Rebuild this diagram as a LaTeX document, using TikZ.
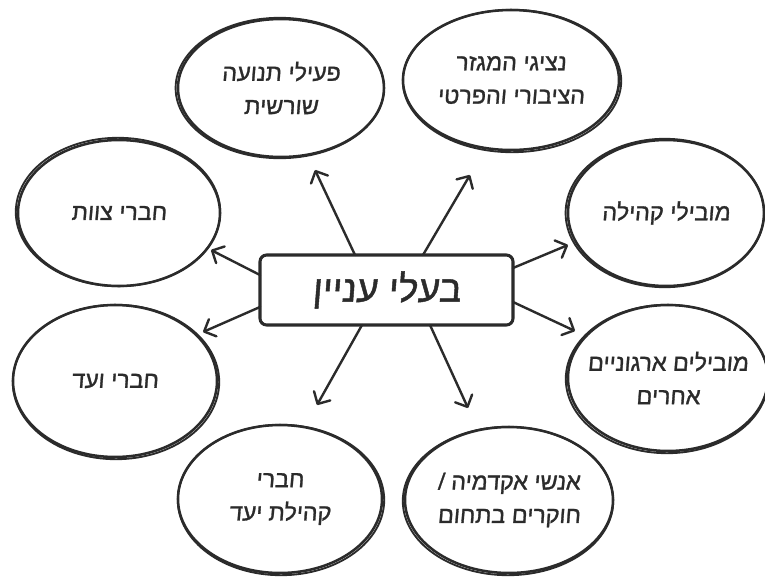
\documentclass[tikz,border=0pt]{standalone}
\usepackage{fontspec}
\newfontfamily\hebfont[Script=Hebrew,FakeBold=1.2,FakeSlant=0.08]{Liberation Sans}
\TeXXeTstate=1
\usetikzlibrary{arrows.meta,shapes.geometric}
\definecolor{ink}{HTML}{2B2B2B}
\begin{document}
\begin{tikzpicture}[x=0.75pt,y=-0.75pt,
  bubble/.style={draw=ink,line width=1.9pt,ellipse,inner sep=0pt},
  btext/.style={align=center,text=ink,font=\hebfont\fontsize{17.5}{25}\selectfont},
  hub/.style={draw=ink,line width=2.3pt,rounded corners=5pt,inner sep=0pt,
    minimum width=189.75pt,minimum height=52.5pt,text=ink,font=\hebfont\fontsize{28}{32}\selectfont},
  sketch/.style={draw=ink,line width=1.4pt},
  link/.style={draw=ink,line width=1.8pt,line cap=round,-{Straight Barb[length=7pt,width=14pt,line width=1.8pt,round]}}]
\useasboundingbox (0,0) rectangle (765,576);
\fill[white] (0,0) rectangle (765,576);
\node[hub] (c) at (386.5,290) {\beginR בעלי עניין\endR};
\node[bubble,minimum width=154.5pt,minimum height=103.5pt] (tl) at (281,88) {};
\node[bubble,minimum width=162pt,minimum height=105pt] (tr) at (511,80) {};
\node[bubble,minimum width=151.5pt,minimum height=109.5pt] (lu) at (119,213) {};
\node[bubble,minimum width=147pt,minimum height=109.5pt] (ru) at (666,213) {};
\node[bubble,minimum width=153pt,minimum height=114pt] (ll) at (115,381) {};
\node[bubble,minimum width=150pt,minimum height=109.5pt] (rl) at (668,378) {};
\node[bubble,minimum width=153pt,minimum height=111pt] (bl) at (280,499) {};
\node[bubble,minimum width=156pt,minimum height=109.5pt] (br) at (509,500) {};
% hand-drawn thickening
\foreach \n/\rx/\ry/\dx/\dy in {tl/103/69/-1.2/0, tr/108/70/1/1, lu/101/73/-1/-1, ru/98/73/-1.2/0,
   ll/102/76/1/1, rl/100/73/-1/1, bl/102/74/1/1, br/104/73/-1/1}
  {\draw[sketch] ([shift={(\dx,\dy)}]\n.center) ellipse [x radius=\rx+1.2, y radius=\ry+1.2];}
% texts
\node[btext] (ttl) at (tl.center) {\beginR פעילי תנועה\endR\\\beginR שורשית\endR};
\node[btext] (ttr) at (tr.center) {\beginR נציגי המגזר\endR\\\beginR הציבורי והפרטי\endR};
\node[btext] (tlu) at (lu.center) {\beginR חברי צוות\endR};
\node[btext] (tru) at (ru.center) {\beginR מובילי קהילה\endR};
\node[btext] (tll) at (ll.center) {\beginR חברי ועד\endR};
\node[btext] (trl) at (rl.center) {\beginR מובילים ארגוניים\endR\\\beginR אחרים\endR};
\node[btext] (tbl) at (bl.center) {\beginR חברי\endR\\\beginR קהילת יעד\endR};
\node[btext] (tbr) at (br.center) {\beginR אנשי אקדמיה /\endR\\\beginR חוקרים בתחום\endR};
% arrow ends
\coordinate (s1) at (355,255); \coordinate (e1) at (315,170);
\coordinate (s2) at (423,255); \coordinate (e2) at (470,175);
\coordinate (s3) at (260,275); \coordinate (e3) at (211,250);
\coordinate (s4) at (260,307); \coordinate (e4) at (203,332);
\coordinate (s5) at (513,268); \coordinate (e5) at (568,245);
\coordinate (s6) at (513,302); \coordinate (e6) at (575,331);
\coordinate (s7) at (362,325); \coordinate (e7) at (317,405);
\coordinate (s8) at (430,325); \coordinate (e8) at (468,408);
\foreach \i in {1,...,8} {\draw[link] (s\i) -- (e\i);}
\end{tikzpicture}
\end{document}
